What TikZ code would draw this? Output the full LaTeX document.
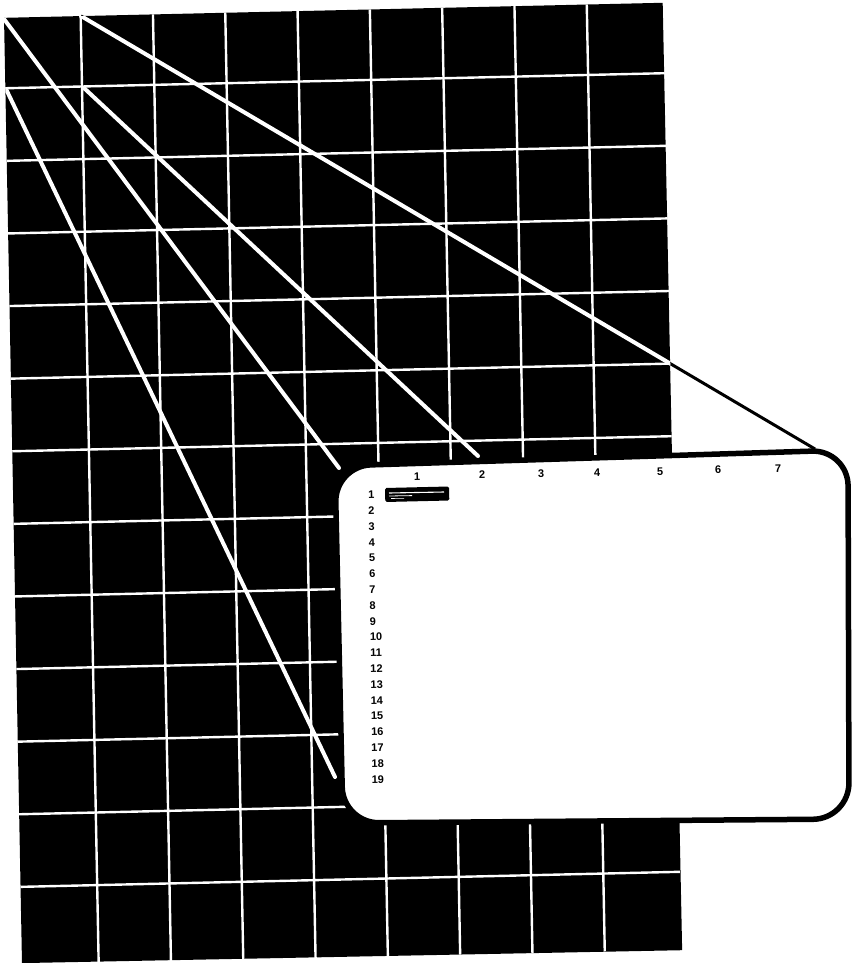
\documentclass[tikz,border=0pt]{standalone}
\usepackage{fontspec}
\setmainfont{Liberation Sans}
\begin{document}
\begin{tikzpicture}[x=1pt,y=-1pt,
  gridline/.style={white, line width=2.4pt},
  ray/.style={white, line width=4pt, line cap=round},
  rayblack/.style={black, line width=3pt},
  screenbox/.style={draw=black, fill=white, line width=5.5pt, rounded corners=36pt},
  lbl/.style={font=\bfseries\fontsize{11}{11}\selectfont, inner sep=0pt, rotate=1.2},
]
\useasboundingbox (0,0) rectangle (851,963);
\fill[white] (0,0) rectangle (851,963);

% ray 2: black part outside the panel
\coordinate (r2s) at (81,16);
\coordinate (r2e) at (815,449);
\draw[rayblack] (r2s) -- (r2e);

% black panel with white grid
\begin{scope}[shift={(82pt,-86.5pt)}, x={(72.3pt,1.65pt)}, y={(1.38pt,-72.6pt)}]
  \coordinate (p1) at (-1.06,-0.97);
  \coordinate (p2) at (8.05,-0.97);
  \coordinate (p3) at (8.07,12.08);
  \coordinate (p4) at (-1.06,12.05);
  \fill[black] (p1) -- (p2) -- (p3) -- (p4) -- cycle;
  \foreach \i in {0,...,7} \draw[gridline] (\i,-0.97) -- (\i,12.07);
  \foreach \j in {0,...,11} \draw[gridline] (-1.06,\j) -- (8.06,\j);
\end{scope}

% white part of ray 2, inside the panel
\begin{scope}
  \clip (p1) -- (p2) -- (p3) -- (p4) -- cycle;
  \draw[ray] (r2s) -- (r2e);
\end{scope}

% other rays
\coordinate (r1s) at (4,19);
\coordinate (r1e) at (339,468);
\coordinate (r3s) at (6,89);
\coordinate (r3e) at (335,777);
\coordinate (r4s) at (84,88);
\coordinate (r4e) at (478,456);
\begin{scope}
  \clip (p1) -- (p2) -- (p3) -- (p4) -- cycle;
  \draw[ray] (r1s) -- (r1e);
  \draw[ray] (r3s) -- (r3e);
  \draw[ray] (r4s) -- (r4e);
\end{scope}

% screen
\draw[screenbox] (335,466) -- (848,450) -- (849,819) -- (343,823) -- cycle;

% cursor
\fill[black, rounded corners=1.5pt] (385,488) -- (449,486.5) -- (449.3,500.5) -- (385.3,502) -- cycle;
\draw[white, line width=1.1pt] (389,493) -- (444,492);
\draw[white, line width=0.8pt] (389,496) -- (412,495.6);
\draw[white, line width=0.6pt] (391,498.5) -- (404,498.3);

% column labels
\foreach \t/\x/\y in {1/417/477, 2/482/475, 3/541/474, 4/597/473, 5/660/472, 6/718/470, 7/778/469}
  \node[lbl] (c\t) at (\x,\y) {\t};

% row labels
\foreach \r in {1,...,19} {
  \pgfmathsetmacro{\ry}{495+15.8*(\r-1)}
  \pgfmathsetmacro{\rx}{368+0.2*(\r-1)}
  \node[lbl, anchor=west] (row\r) at (\rx,\ry) {\r};
}
\end{tikzpicture}
\end{document}
